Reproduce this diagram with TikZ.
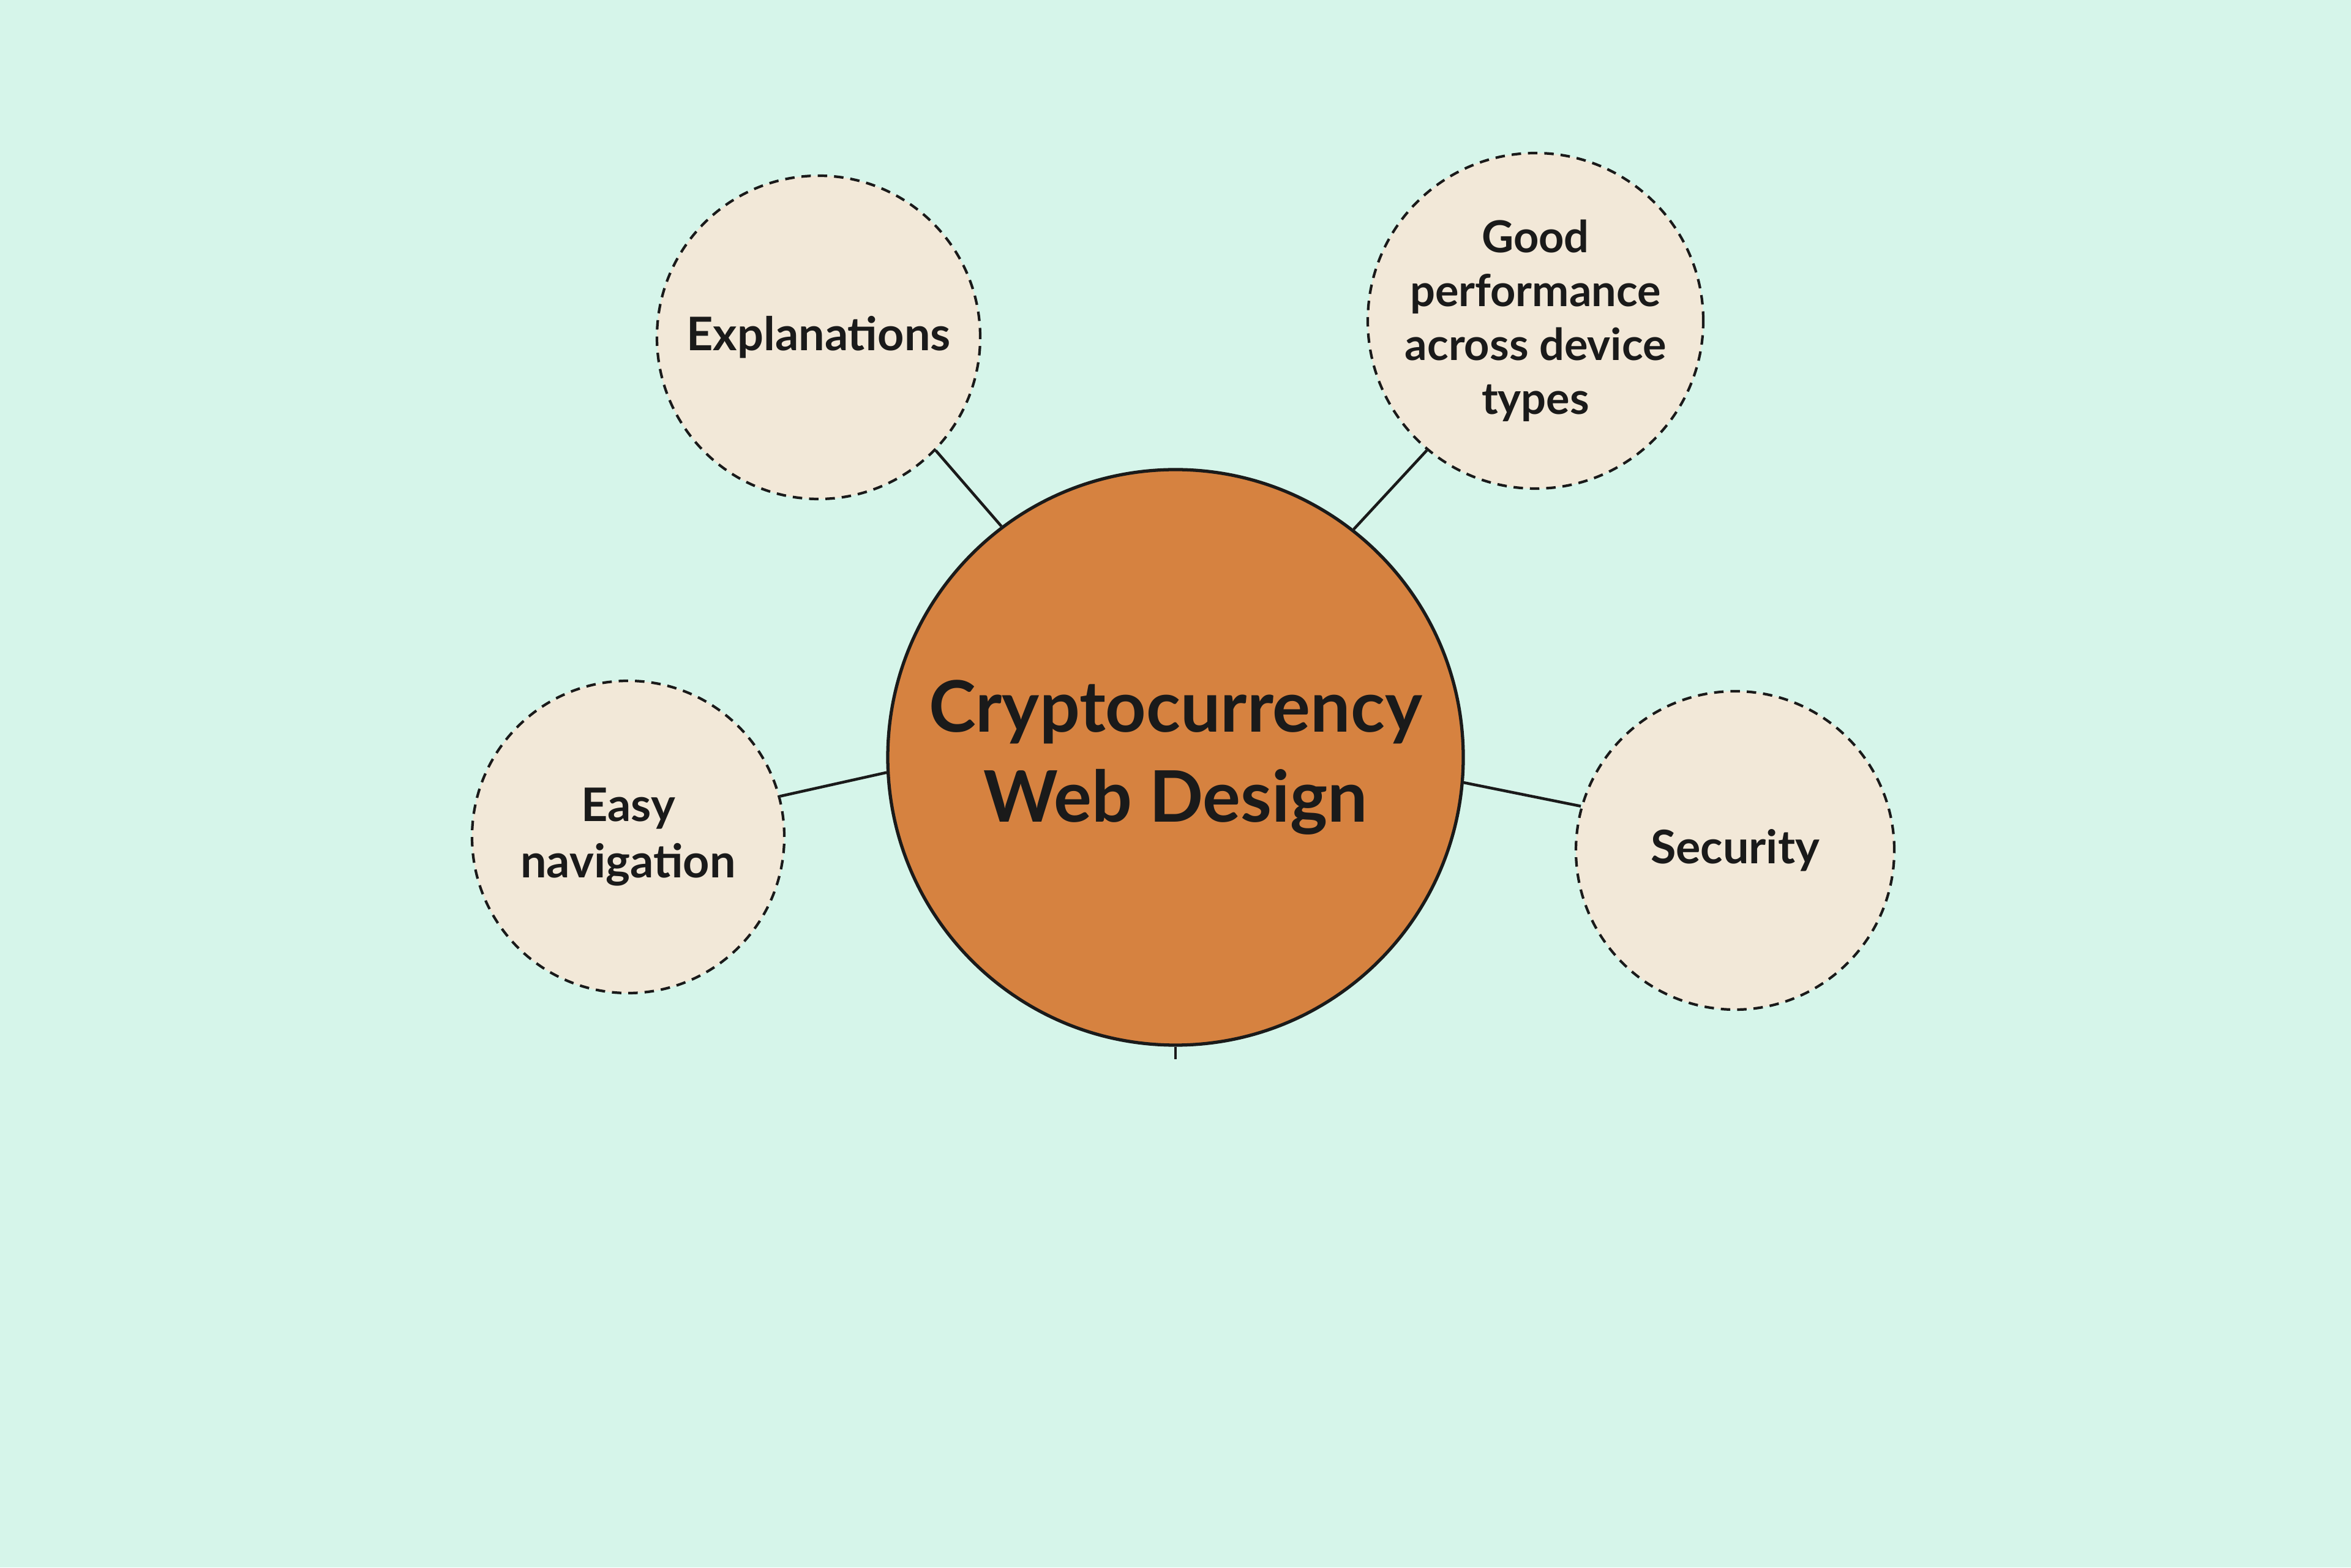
\documentclass[tikz,border=0pt]{standalone}
\usepackage{fontspec}
\setmainfont{Lato}
\definecolor{mintbg}{HTML}{D6F5EA}
\definecolor{hubcol}{HTML}{D68240}
\definecolor{topiccol}{HTML}{F2E8D8}
\definecolor{inkcol}{HTML}{1A1A1A}
\begin{document}
\begin{tikzpicture}[
    hub/.style={
        circle, 
        draw=inkcol, 
        line width=1.5pt, 
        fill=hubcol, 
        minimum size=9.4cm, 
        align=center, 
        text=inkcol, 
        font=\fontsize{33}{42}\selectfont\bfseries
    },
    topic/.style={
        circle, 
        draw=inkcol, 
        line width=1.2pt, 
        dash pattern=on 4.4pt off 3.2pt, 
        fill=topiccol, 
        align=center, 
        text=inkcol, 
        font=\fontsize{21.5}{26}\selectfont\bfseries
    },
    link/.style={draw=inkcol, line width=1.3pt}
]
    % Sfondo
    \fill[mintbg] (0,0) rectangle (38.4,25.6);
    \useasboundingbox (0,0) rectangle (38.4,25.6);

    % Nodo centrale
    \node[hub] (hub) at (19.20,13.23) {Cryptocurrency\\Web Design};

    % Quattro temi
    \node[topic, minimum size=5.28cm] (expl) at (13.37,20.09) {Explanations};
    \node[topic, minimum size=5.48cm, inner sep=0pt, 
          font=\fontsize{20.5}{25}\selectfont\bfseries] (perf) at (25.08,20.36) 
         {Good\\performance\\across device\\types};
    \node[topic, minimum size=5.10cm] (nav) at (10.26,11.93) {Easy\\navigation};
    \node[topic, minimum size=5.20cm] (sec) at (28.34,11.71) {Security};

    % Connessioni
    \draw[link] (hub.127.9) -- (expl.-44.6);
    \draw[link] (hub.52.6) -- (perf.-130.7);
    \draw[link] (hub.183.9) -- (nav.15.5);
    \draw[link] (hub.-5.9) -- (sec.164.3);
    \coordinate (stub) at ([yshift=-0.2cm]hub.south);
    \draw[link] (hub.south) -- (stub);
\end{tikzpicture}
\end{document}
